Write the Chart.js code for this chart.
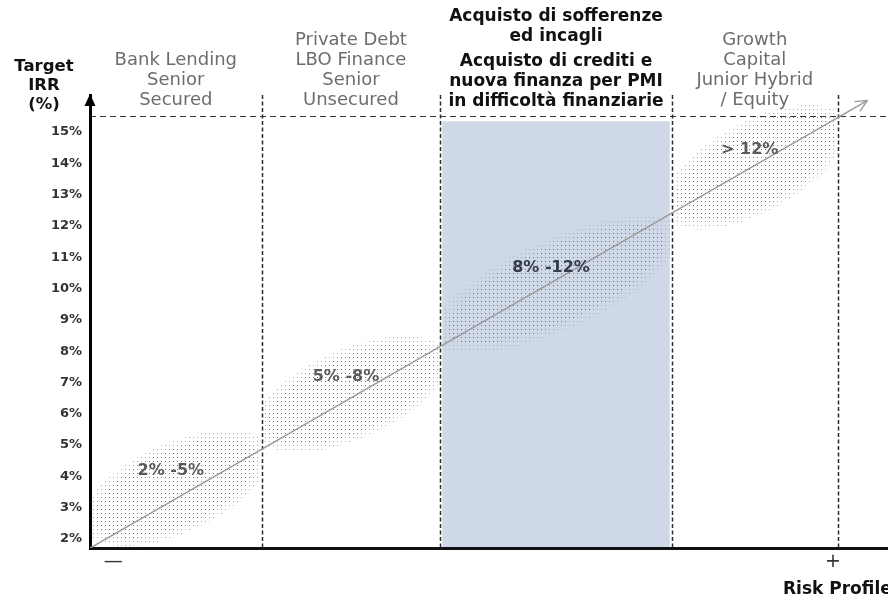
<!DOCTYPE html>
<html>
<head>
<meta charset="utf-8">
<title>Target IRR / Risk Profile</title>
<script src="https://cdn.jsdelivr.net/npm/chart.js@4.4.0/dist/chart.umd.min.js"></script>
<style>
  html, body { margin: 0; padding: 0; background: #fff; }
</style>
</head>
<body>
<canvas id="myChart" width="888" height="594"></canvas>
<script>
// --- dati ---
const segmentLabels = [
  ['Bank Lending', 'Senior', 'Secured'],
  ['Private Debt', 'LBO Finance', 'Senior', 'Unsecured'],
  ['Acquisto di sofferenze', 'ed incagli', '', 'Acquisto di crediti e', 'nuova finanza per PMI', 'in difficoltà finanziarie'],
  ['Growth', 'Capital', 'Junior Hybrid', '/ Equity']
];
const segmentBounds = [0, 21.5, 43.9, 72.9, 93.7];   // profilo di rischio
const rangeLabels = ['2% -5%', '5% -8%', '8% -12%', '> 12%'];
const rangeLow = [2, 5, 8, 12];
const rangeHigh = [5, 8, 12, 15.5];
const topLevel = 15.5;
const irrTicks = [2, 3, 4, 5, 6, 7, 8, 9, 10, 11, 12, 13, 14, 15];
const riskTicks = [2.9, 93.1];
const riskTickLabels = ['—', '+'];
const trendX = [0, 97.4];
const trendY = [1.71, 16.0];

const FONT = '"DejaVu Sans", Verdana, sans-serif';
const HIGHLIGHT = 2;

function makeDots(color) {
  const c = document.createElement('canvas');
  c.width = 4;
  c.height = 4;
  const g = c.getContext('2d');
  g.fillStyle = color;
  g.fillRect(1, 1, 1, 1);
  return c;
}
const dotsDark = makeDots('#767676');
const dotsLight = makeDots('#aaaaaa');

function blobGeometry(x, y, i) {
  const x0 = x.getPixelForValue(segmentBounds[i]);
  const x1 = x.getPixelForValue(segmentBounds[i + 1]);
  const y0 = y.getPixelForValue(rangeLow[i]);
  const y1 = y.getPixelForValue(rangeHigh[i]);
  const w = x1 - x0, h = y0 - y1;
  return {x0, x1, w, h, cx: (x0 + x1) / 2, cy: (y0 + y1) / 2,
    rot: -Math.atan2(h, w) * 0.85, rx: Math.hypot(w, h) / 2};
}

const decor = {
  id: 'decor',
  beforeDraw(chart) {
    const {ctx, chartArea: a, scales: {x, y}} = chart;
    ctx.save();

    // fascia evidenziata
    const bx0 = x.getPixelForValue(segmentBounds[HIGHLIGHT]) + 2;
    const bx1 = x.getPixelForValue(segmentBounds[HIGHLIGHT + 1]) - 2;
    const by0 = y.getPixelForValue(topLevel) + 5;
    ctx.fillStyle = '#cfd8e6';
    ctx.fillRect(bx0, by0, bx1 - bx0, a.bottom - by0);

    // nuvole puntinate
    const patDark = ctx.createPattern(dotsDark, 'repeat');
    const patLight = ctx.createPattern(dotsLight, 'repeat');
    rangeLow.forEach((lo, i) => {
      const b = blobGeometry(x, y, i);
      ctx.save();
      ctx.beginPath();
      ctx.rect(Math.max(b.x0, a.left) + 2, a.top, b.w - 3, a.bottom - a.top - 2);
      ctx.clip();
      ctx.fillStyle = patLight;
      ctx.beginPath();
      ctx.ellipse(b.cx, b.cy - 4, b.rx * 1.02, 45, b.rot, 0, Math.PI * 2);
      ctx.fill();
      ctx.fillStyle = patDark;
      ctx.beginPath();
      ctx.ellipse(b.cx, b.cy - 4, b.rx * 0.9, 38, b.rot, 0, Math.PI * 2);
      ctx.fill();
      ctx.restore();
    });

    // separatori verticali
    ctx.strokeStyle = '#2b2b2b';
    ctx.lineWidth = 1.5;
    ctx.setLineDash([4, 2.5]);
    segmentBounds.slice(1).forEach(v => {
      const px = Math.round(x.getPixelForValue(v)) + 0.5;
      ctx.beginPath();
      ctx.moveTo(px, a.top);
      ctx.lineTo(px, a.bottom);
      ctx.stroke();
    });

    // linea tratteggiata orizzontale
    const ty = Math.round(y.getPixelForValue(topLevel)) + 0.5;
    ctx.strokeStyle = '#333';
    ctx.lineWidth = 1.2;
    ctx.setLineDash([6, 4]);
    ctx.beginPath();
    ctx.moveTo(a.left, ty);
    ctx.lineTo(a.right, ty);
    ctx.stroke();
    ctx.restore();
  },
  afterDatasetsDraw(chart) {
    const {ctx, scales: {x, y}} = chart;
    const pts = chart.getDatasetMeta(0).data;
    const p0 = pts[0], p1 = pts[pts.length - 1];
    const ang = Math.atan2(p1.y - p0.y, p1.x - p0.x);
    ctx.save();
    ctx.strokeStyle = '#9a9a9a';
    ctx.lineWidth = 1.4;
    ctx.beginPath();
    ctx.moveTo(p1.x - 13 * Math.cos(ang - 0.45), p1.y - 13 * Math.sin(ang - 0.45));
    ctx.lineTo(p1.x, p1.y);
    ctx.lineTo(p1.x - 13 * Math.cos(ang + 0.45), p1.y - 13 * Math.sin(ang + 0.45));
    ctx.stroke();

    // etichette dei range
    ctx.font = 'bold 16px ' + FONT;
    ctx.textAlign = 'center';
    ctx.textBaseline = 'middle';
    rangeLabels.forEach((t, i) => {
      const b = blobGeometry(x, y, i);
      ctx.fillStyle = i === HIGHLIGHT ? '#343b4a' : '#5a5a5a';
      ctx.fillText(t, b.cx - 5, b.cy - 21);
    });
    ctx.restore();
  },
  afterDraw(chart) {
    const {ctx, chartArea: a, scales: {x}} = chart;
    ctx.save();
    ctx.textAlign = 'center';
    ctx.textBaseline = 'middle';

    // intestazioni dei segmenti
    segmentLabels.forEach((lines, i) => {
      const cx = (x.getPixelForValue(segmentBounds[i]) + x.getPixelForValue(segmentBounds[i + 1])) / 2;
      const hi = i === HIGHLIGHT;
      ctx.font = (hi ? 'bold 17px ' : '18px ') + FONT;
      ctx.fillStyle = hi ? '#111' : '#6d6d6d';
      let ly = hi ? 102 : 100;
      for (let k = lines.length - 1; k >= 0; k--) {
        if (lines[k] === '') { ly -= 5; continue; }
        ctx.fillText(lines[k], cx, ly);
        ly -= 20;
      }
    });

    // titolo asse y
    ctx.font = 'bold 16.5px ' + FONT;
    ctx.fillStyle = '#111';
    ['Target', 'IRR', '(%)'].forEach((t, k) => ctx.fillText(t, 44, 67 + k * 19));

    // freccia asse y
    ctx.fillStyle = '#000';
    ctx.beginPath();
    ctx.moveTo(a.left, a.top - 1);
    ctx.lineTo(a.left - 5.5, a.top + 11);
    ctx.lineTo(a.left + 5.5, a.top + 11);
    ctx.closePath();
    ctx.fill();

    // titolo asse x
    ctx.font = 'bold 17px ' + FONT;
    ctx.textAlign = 'left';
    ctx.textBaseline = 'alphabetic';
    ctx.fillStyle = '#111';
    ctx.fillText('Risk Profile', 783, 594);
    ctx.restore();
  }
};

const ctx = document.getElementById('myChart').getContext('2d');
const myChart = new Chart(ctx, {
  type: 'scatter',
  data: {
    datasets: [{
      label: 'Target IRR',
      data: trendX.map((v, i) => ({x: v, y: trendY[i]})),
      showLine: true,
      borderColor: '#9a9a9a',
      borderWidth: 1.5,
      pointRadius: 0
    }]
  },
  options: {
    responsive: false,
    animation: false,
    layout: {padding: {top: 95, left: 0, right: 0, bottom: 0}},
    plugins: {
      legend: {display: false},
      tooltip: {enabled: false},
      title: {display: false}
    },
    scales: {
      x: {
        type: 'linear',
        min: 0,
        max: 100,
        grid: {display: false, drawTicks: false},
        border: {display: true, color: '#111', width: 3},
        afterBuildTicks: axis => { axis.ticks = riskTicks.map(v => ({value: v})); },
        afterFit: axis => { axis.height = 46; },
        ticks: {
          autoSkip: false,
          maxRotation: 0,
          padding: 3,
          color: '#333',
          font: {family: FONT, size: 19, weight: 'normal'},
          callback: (v, i) => riskTickLabels[i]
        }
      },
      y: {
        type: 'linear',
        min: 1.7126,
        max: 16.18,
        grid: {display: false, drawTicks: false},
        border: {display: true, color: '#000', width: 3},
        afterBuildTicks: axis => { axis.ticks = irrTicks.map(v => ({value: v})); },
        afterFit: axis => { axis.width = 90; },
        ticks: {
          padding: 8,
          color: '#333',
          font: {family: FONT, size: 13, weight: 'bold'},
          callback: v => v + '%'
        }
      }
    }
  },
  plugins: [decor]
});
</script>
</body>
</html>
